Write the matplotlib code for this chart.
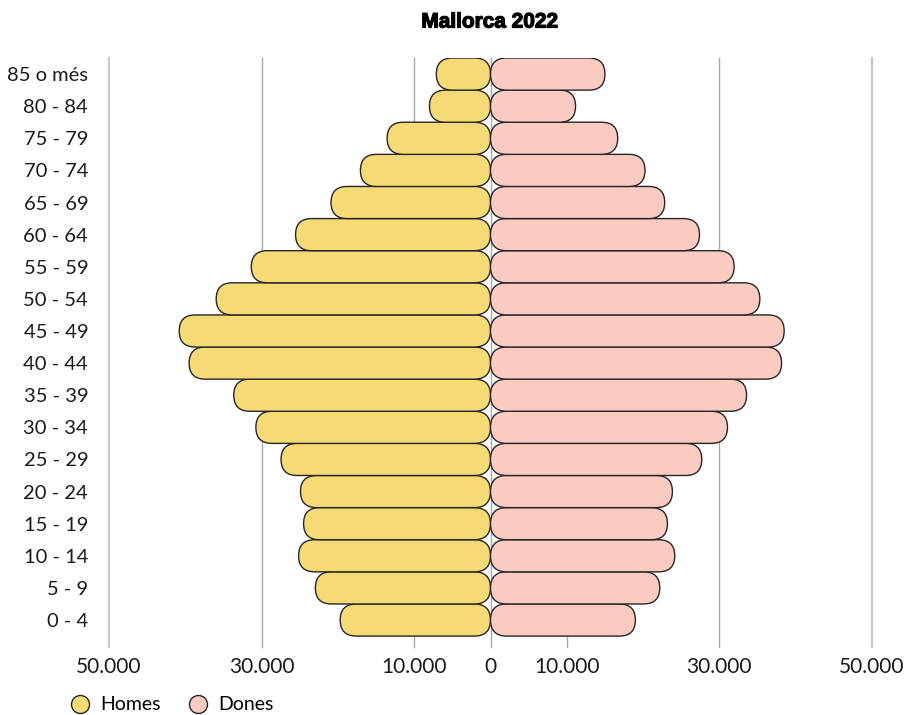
import matplotlib.pyplot as plt
import matplotlib.patheffects as pe
from matplotlib.patches import FancyBboxPatch
from matplotlib.lines import Line2D

plt.rcParams['font.family'] = ['Lato', 'DejaVu Sans']

# age groups, bottom to top
groups = ['0 - 4', '5 - 9', '10 - 14', '15 - 19', '20 - 24', '25 - 29', '30 - 34',
          '35 - 39', '40 - 44', '45 - 49', '50 - 54', '55 - 59', '60 - 64',
          '65 - 69', '70 - 74', '75 - 79', '80 - 84', '85 o més']
homes = [19700, 22950, 25150, 24500, 24900, 27450, 30750, 33650, 39500,
         40800, 35950, 31350, 25550, 20900, 17050, 13550, 8000, 7100]
dones = [18990, 22180, 24150, 23190, 23840, 27690, 31060, 33560, 38150,
         38490, 35300, 31930, 27390, 22830, 20250, 16670, 11150, 15000]

xticks = [-50000, -30000, -10000, 0, 10000, 30000, 50000]
xlabels = ['50.000', '30.000', '10.000', '0', '10.000', '30.000', '50.000']

c_homes = '#F6DA75'
c_dones = '#FBCBC1'
c_edge = '#262626'

W, H = 906, 715
fig = plt.figure(figsize=(W / 100, H / 100), dpi=100)
ax = fig.add_axes([109 / W, 1 - 647 / H, 763 / W, 589 / H])
ax.set_xlim(-50000, 50000)
ax.set_ylim(-0.84, len(groups) - 0.5)

# pill rounding: half bar height, expressed in x units
x_span = 100000
y_span = len(groups) - 0.5 + 0.84
px_x = ax.bbox.width / x_span
px_y = ax.bbox.height / y_span
rx = 0.5 * px_y / px_x
asp = 0.5 / rx


def pill(x0, w, y, color):
    p = FancyBboxPatch((x0, y - 0.5), w, 1.0,
                       boxstyle=f"round,pad=0,rounding_size={rx}",
                       mutation_aspect=asp, facecolor=color,
                       edgecolor=c_edge, linewidth=1.0, zorder=3)
    ax.add_patch(p)


for i, (h, d) in enumerate(zip(homes, dones)):
    pill(-h, h, i, c_homes)
    pill(0, d, i, c_dones)

# vertical grid lines
for t in xticks:
    outer = abs(t) == 50000
    ax.axvline(t, color='#c8c8c8' if outer else '#a8a8a8',
               lw=1.6 if outer else 1.0, zorder=1, clip_on=False)

ax.set_xticks(xticks, xlabels)
ax.set_yticks(range(len(groups)), groups)
ax.tick_params(axis='x', length=0, pad=7, labelsize=15, labelcolor='#1a1a1a')
ax.tick_params(axis='y', length=0, pad=15, labelsize=14.5, labelcolor='#1a1a1a')
for s in ax.spines.values():
    s.set_visible(False)

fig.text(490 / W, 1 - 22 / H, 'Mallorca 2022', ha='center', va='center',
         fontsize=15, fontweight='bold', family=['Liberation Sans', 'DejaVu Sans'],
         path_effects=[pe.withStroke(linewidth=0.9, foreground='black')])

handles = [Line2D([], [], ls='', marker='o', markersize=13, markerfacecolor=c,
                  markeredgecolor=c_edge, markeredgewidth=1.0) for c in (c_homes, c_dones)]
fig.legend(handles, ['Homes', 'Dones'], loc='center left',
           bbox_to_anchor=(70 / W, 1 - 705 / H), ncol=2, frameon=False,
           fontsize=14, handlelength=1.0, handletextpad=0.55, columnspacing=1.42,
           borderaxespad=0, borderpad=0)

fig.savefig('out.png', dpi=100)
